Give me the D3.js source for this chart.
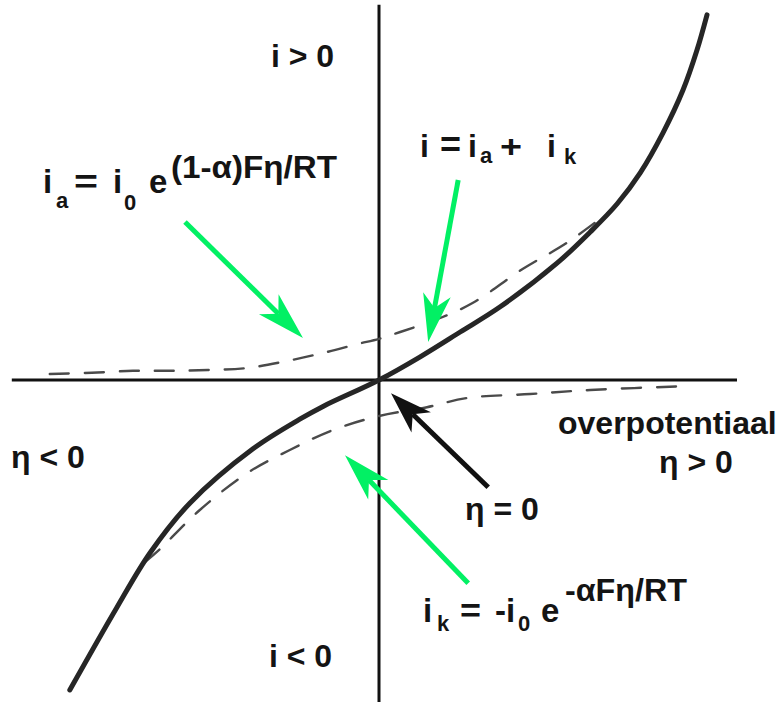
<!DOCTYPE html>
<html>
<head>
<meta charset="utf-8">
<script src="https://cdn.jsdelivr.net/npm/d3@7/dist/d3.min.js"></script>
<style>
  html, body { margin: 0; padding: 0; background: #fff; }
  svg text { font-family: "Liberation Sans", Arial, sans-serif; font-weight: bold; fill: #141414; }
</style>
</head>
<body>
<svg id="chart" width="782" height="702"></svg>
<script>
// Butler–Volmer sketch: overpotential η (horizontal) vs current i (vertical), arbitrary units.

// Net current i = i_a + i_k (solid)
const totalEta = [-7.73, -6.55, -5.73, -4.73, -3.15, -1.98, -1.40, 0, 1.03, 2.03, 3.03, 4.45, 5.28, 5.95, 6.53, 7.10, 7.60, 7.95, 8.20];
const totalI   = [-7.75, -5.68, -4.33, -3.08, -1.72, -0.98, -0.66, 0, 0.58, 1.20, 1.83, 2.92, 3.70, 4.40, 5.18, 6.18, 7.25, 8.25, 9.13];

// Anodic branch i_a (dashed, upper)
const anodicEta = [-8.23, -7.18, -6.15, -5.23, -4.28, -3.30, -2.28, -1.30, -0.53, 0, 0.53, 1.53, 2.35, 3.60, 4.70, 5.75];
const anodicI   = [0.15, 0.18, 0.23, 0.23, 0.25, 0.30, 0.48, 0.70, 0.90, 1.03, 1.20, 1.55, 1.93, 2.78, 3.43, 4.20];

// Cathodic branch i_k (dashed, lower)
const cathodicEta = [-5.85, -5.48, -4.48, -3.30, -2.23, -1.15, 0, 1.20, 2.20, 3.78, 5.28, 7.78];
const cathodicI   = [-4.55, -4.23, -3.25, -2.33, -1.75, -1.25, -0.90, -0.68, -0.45, -0.35, -0.25, -0.15];

// Axis extents
const etaExtent = [-9.18, 8.95];
const iExtent   = [-8.10, 9.38];

// Pointer arrows: [tailEta, tailI, tipEta, tipI]
const arrowAnodic   = [-4.85, 3.95, -1.90, 1.05];
const arrowTotal    = [1.98, 5.00, 1.23, 0.95];
const arrowCathodic = [2.23, -5.08, -0.85, -1.88];
const arrowZero     = [2.73, -2.68, 0.30, -0.33];

const svg = d3.select("#chart");
const x = d3.scaleLinear().domain([-9.2, 9.2]).range([11, 747]);
const y = d3.scaleLinear().domain([-9.2, 9.2]).range([748, 12]);

const zip = (a, b) => a.map((v, k) => [v, b[k]]);
const line = d3.line().x(d => x(d[0])).y(d => y(d[1])).curve(d3.curveCatmullRom.alpha(0.5));

// axes through the origin
svg.append("line")
  .attr("x1", x(etaExtent[0])).attr("x2", x(etaExtent[1]))
  .attr("y1", y(0)).attr("y2", y(0))
  .attr("stroke", "#111").attr("stroke-width", 3);
svg.append("line")
  .attr("x1", x(0)).attr("x2", x(0))
  .attr("y1", y(iExtent[1])).attr("y2", y(iExtent[0]))
  .attr("stroke", "#111").attr("stroke-width", 3);

// partial currents
[[anodicEta, anodicI], [cathodicEta, cathodicI]].forEach(([e, i]) => {
  svg.append("path")
    .attr("d", line(zip(e, i)))
    .attr("fill", "none")
    .attr("stroke", "#4a4a4a")
    .attr("stroke-width", 2.4)
    .attr("stroke-dasharray", "19 16")
    .attr("stroke-linecap", "round");
});

// net current
svg.append("path")
  .attr("d", line(zip(totalEta, totalI)))
  .attr("fill", "none")
  .attr("stroke", "#262626")
  .attr("stroke-width", 5)
  .attr("stroke-linecap", "round");

// arrows with barbed heads
function arrow(a, color, headLen, halfW) {
  const tx = x(a[0]), ty = y(a[1]), px = x(a[2]), py = y(a[3]);
  const dx = px - tx, dy = py - ty, L = Math.hypot(dx, dy);
  const ux = dx / L, uy = dy / L, nx = -uy, ny = ux;
  const bx = px - ux * headLen, by = py - uy * headLen;
  const mx = px - ux * headLen * 0.72, my = py - uy * headLen * 0.72;
  svg.append("line")
    .attr("x1", tx).attr("y1", ty).attr("x2", mx).attr("y2", my)
    .attr("stroke", color).attr("stroke-width", 5);
  svg.append("path")
    .attr("d", `M${px},${py}L${bx + nx * halfW},${by + ny * halfW}L${mx},${my}L${bx - nx * halfW},${by - ny * halfW}Z`)
    .attr("fill", color);
}
const green = "#02f064";
arrow(arrowAnodic, green, 48, 14);
arrow(arrowTotal, green, 48, 14);
arrow(arrowCathodic, green, 48, 14);
arrow(arrowZero, "#111", 42, 14);

// labels, built from positioned pieces
function label(pieces) {
  const t = svg.append("text");
  pieces.forEach(([s, px, py, size, len]) => {
    const sp = t.append("tspan").attr("x", px).attr("y", py).attr("font-size", size).text(s);
    if (len) sp.attr("textLength", len).attr("lengthAdjust", "spacingAndGlyphs");
  });
}
label([["i > 0", 271, 67, 32]]);
label([["i", 43, 193, 33], ["a", 56, 208, 22], ["=", 74, 193, 33, 24], ["i", 113, 193, 33],
       ["0", 124, 210, 22], ["e", 149, 193, 33], ["(1-α)Fη/RT", 171, 178, 32, 166]]);
label([["i", 420, 157, 32], ["=", 440, 157, 36], ["i", 468, 157, 32], ["a", 480, 163, 22],
       ["+", 500, 157, 32, 22], ["i", 547, 157, 32], ["k", 564, 164, 22]]);
label([["η < 0", 11, 468, 32]]);
label([["overpotentiaal", 558, 434, 32]]);
label([["η > 0", 659, 473, 32]]);
label([["η = 0", 465, 520, 32]]);
label([["i", 423, 622, 33], ["k", 437, 631, 22], ["=", 460, 622, 33, 21], ["-i", 495, 622, 33],
       ["0", 518, 631, 22], ["e", 541, 622, 33], ["-αFη/RT", 565, 601, 32, 122]]);
label([["i < 0", 269, 667, 32]]);
</script>
</body>
</html>
